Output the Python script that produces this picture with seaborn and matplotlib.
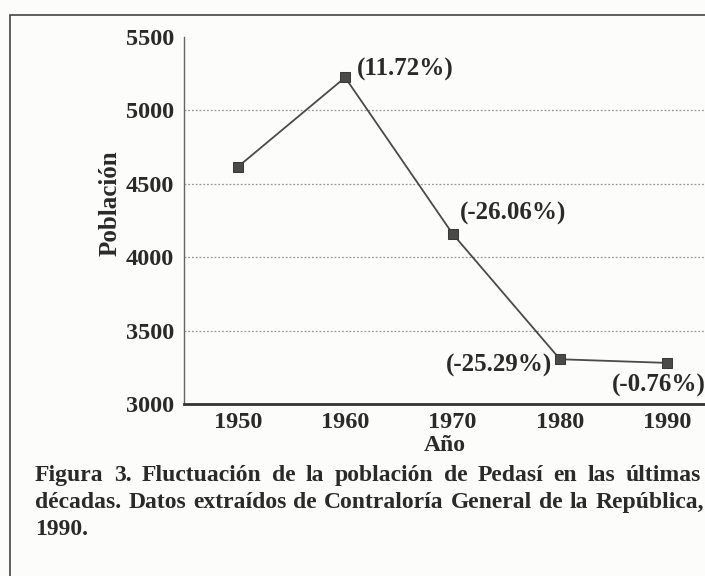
import seaborn as sns
import pandas as pd
import matplotlib
matplotlib.use("Agg")
from matplotlib import pyplot as plt
from matplotlib.patches import Rectangle

# data
years = [1950, 1960, 1970, 1980, 1990]
population = [4615, 5225, 4160, 3305, 3280]
changes = ["", "(11.72%)", "(-26.06%)", "(-25.29%)", "(-0.76%)"]
yticks = [3000, 3500, 4000, 4500, 5000, 5500]

caption = [
    "Figura 3. Fluctuación de la población de Pedasí en las últimas",
    "décadas. Datos extraídos de Contraloría General de la República,",
    "1990.",
]

df = pd.DataFrame({"Año": years, "Población": population})

sns.set_style("white")
plt.rcParams["font.family"] = ["Liberation Serif", "DejaVu Serif"]
plt.rcParams["font.weight"] = "bold"

W, H = 705, 576
ink = "#2a2a2a"
fig = plt.figure(figsize=(W / 100, H / 100), dpi=100, facecolor="#fcfcfb")
ax = fig.add_axes([0.261, 0.2986, 0.739, 0.637])
ax.set_facecolor("#fcfcfb")

sns.lineplot(data=df, x="Año", y="Población", marker="s", markersize=6.5,
             color="#4a4a4a", linewidth=1.3, markeredgecolor="#3a3a3a", ax=ax)

ax.set_xlim(1945, 1993.5)
ax.set_ylim(3000, 5500)
ax.set_xticks(years)
ax.set_yticks(yticks)
ax.tick_params(axis="both", labelsize=17.5, colors=ink, length=5, width=0.8,
               direction="out", pad=2)
ax.tick_params(axis="x", pad=1)

ax.yaxis.grid(True, linestyle=(0, (1.5, 1.5)), color="#9a9a9a", linewidth=0.9)
ax.yaxis.get_gridlines()[-1].set_visible(False)
ax.yaxis.get_gridlines()[0].set_visible(False)

sns.despine(ax=ax, top=True, right=True)
ax.spines["left"].set_color("#666666")
ax.spines["left"].set_linewidth(1.0)
ax.spines["bottom"].set_color("#333333")
ax.spines["bottom"].set_linewidth(2.0)

ax.set_xlabel("Año", fontsize=17, fontweight="bold", color=ink, labelpad=1)
ax.set_ylabel("Población", fontsize=18, fontweight="bold", color=ink)
ax.yaxis.set_label_coords(-0.12, 0.548)

# label offsets in pixels: (dx, dy, ha)
offsets = [None, (12, 8, "left"), (7, 20, "left"), (-8, -6, "right"), (38, -23, "right")]
for yr, val, txt, off in zip(years, population, changes, offsets):
    if off is None:
        continue
    ax.annotate(txt, (yr, val), xytext=(off[0], off[1]), textcoords="offset pixels",
                ha=off[2], va="center", fontsize=18, color=ink, annotation_clip=False)

# justified caption, placed word by word
renderer = fig.canvas.get_renderer()
left_px = 35
right_px = [701, 704, None]
baselines = [481, 508, 535]
for line, rpx, base in zip(caption, right_px, baselines):
    words = line.split()
    texts = [fig.text(0, 1 - base / H, w, fontsize=17, color=ink,
                      ha="left", va="baseline") for w in words]
    widths = [t.get_window_extent(renderer).width for t in texts]
    if rpx is None or len(words) < 2:
        gap = 5.0
    else:
        gap = (rpx - left_px - sum(widths)) / (len(words) - 1)
    x = left_px
    for t, w in zip(texts, widths):
        t.set_x(x / W)
        x += w + gap

# frame around the figure
fig.patches.append(Rectangle((10 / W, -0.1), 1.2, 1 - 15 / H + 0.1,
                             transform=fig.transFigure, fill=False,
                             edgecolor="#444444", linewidth=1.2))

plt.savefig("out.png", dpi=100, facecolor=fig.get_facecolor())
